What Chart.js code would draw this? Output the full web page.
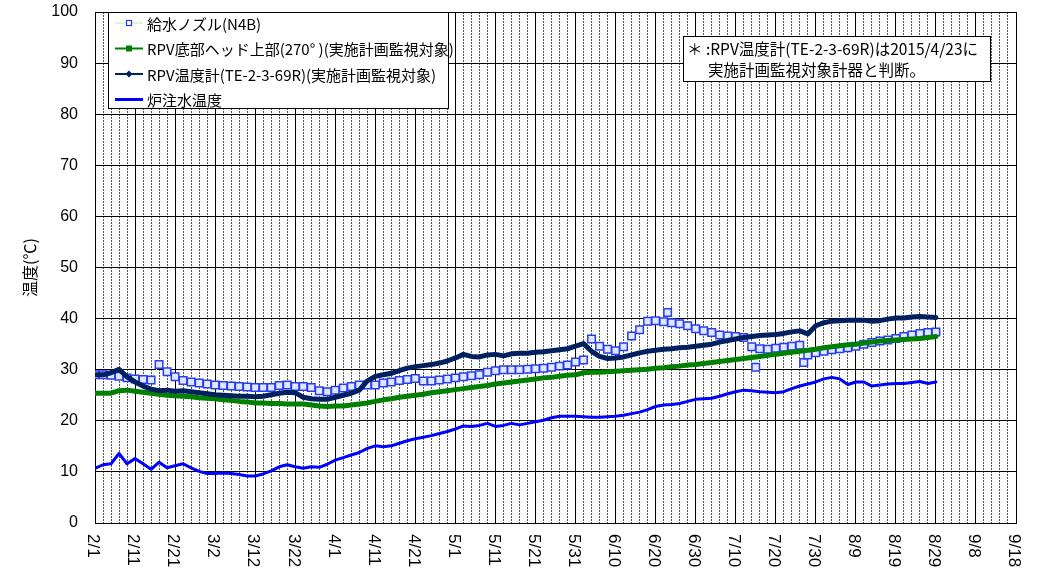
<!DOCTYPE html>
<html><head><meta charset="utf-8">
<script src="https://cdn.jsdelivr.net/npm/chart.js@4.4.1/dist/chart.umd.min.js"></script>
<style>html,body{margin:0;padding:0;background:#fff;}canvas{display:block;}</style>
</head><body>
<canvas id="c" width="1056" height="575"></canvas>
<script>
// sampled dates (2016, every 2 days)
const dates = [
 '2/1','2/3','2/5','2/7','2/9','2/11','2/13','2/15','2/17','2/19','2/21','2/23','2/25','2/27','2/29',
 '3/2','3/4','3/6','3/8','3/10','3/12','3/14','3/16','3/18','3/20','3/22','3/24','3/26','3/28','3/30',
 '4/1','4/3','4/5','4/7','4/9','4/11','4/13','4/15','4/17','4/19','4/21','4/23','4/25','4/27','4/29',
 '5/1','5/3','5/5','5/7','5/9','5/11','5/13','5/15','5/17','5/19','5/21','5/23','5/25','5/27','5/29','5/31',
 '6/2','6/4','6/6','6/8','6/10','6/12','6/14','6/16','6/18','6/20','6/22','6/24','6/26','6/28','6/30',
 '7/2','7/4','7/6','7/8','7/10','7/12','7/14','7/16','7/18','7/20','7/22','7/24','7/26','7/28','7/30',
 '8/1','8/3','8/5','8/7','8/9','8/11','8/13','8/15','8/17','8/19','8/21','8/23','8/25','8/27','8/29'
];
// 給水ノズル(N4B)
const n4bTemps = [
 29.0,29.0,28.9,28.7,28.4,28.2,28.1,28.0,31.0,29.6,28.6,27.9,27.6,27.4,27.2,
 27.0,26.9,26.8,26.7,26.6,26.5,26.5,26.5,26.9,27.0,26.7,26.7,26.5,25.9,25.7,
 26.0,26.4,26.7,27.0,27.0,27.0,27.4,27.6,27.9,28.1,28.3,27.8,27.8,28.0,28.2,
 28.4,28.6,28.8,29.0,29.5,29.8,30.0,30.0,30.0,30.1,30.2,30.3,30.5,30.7,30.9,31.5,
 31.9,36.0,34.6,34.0,33.7,34.5,36.6,37.8,39.5,39.6,39.4,39.2,39.0,38.6,38.0,
 37.6,37.3,36.8,36.6,36.5,36.3,34.5,34.1,34.0,34.2,34.4,34.6,34.8,32.9,33.3,
 33.6,33.9,34.1,34.3,34.6,35.0,35.3,35.6,35.8,36.1,36.5,36.8,37.1,37.3,37.4
];
const n4bOutlierDates = ['6/23','7/15','7/27'];
const n4bOutlierTemps = [41.2,30.5,31.4];
// RPV底部ヘッド上部(270°)
const bottomHeadTemps = [
 25.4,25.4,25.4,25.9,26.0,25.8,25.6,25.4,25.2,25.0,24.9,24.8,24.7,24.5,24.4,
 24.3,24.1,24.0,23.8,23.7,23.5,23.5,23.4,23.4,23.3,23.3,23.3,23.1,22.9,22.8,
 22.9,22.9,23.1,23.3,23.5,23.8,24.1,24.3,24.6,24.8,25.0,25.2,25.5,25.7,25.9,
 26.1,26.3,26.5,26.7,26.9,27.2,27.4,27.6,27.8,28.0,28.2,28.4,28.5,28.7,28.9,29.0,
 29.4,29.5,29.5,29.6,29.7,29.8,29.9,30.0,30.1,30.3,30.4,30.6,30.7,30.9,31.0,
 31.2,31.4,31.6,31.8,32.0,32.2,32.4,32.6,32.8,33.0,33.2,33.4,33.6,33.8,34.0,
 34.3,34.5,34.7,34.9,35.0,35.2,35.4,35.6,35.7,35.8,35.9,36.0,36.1,36.3,36.5
];
// RPV温度計(TE-2-3-69R)
const rpvTemps = [
 29.0,29.0,29.4,30.1,28.6,27.6,26.8,26.2,25.9,26.0,25.8,25.9,25.7,25.5,25.3,
 25.1,25.0,24.9,24.8,24.8,24.7,24.8,25.1,25.4,25.6,25.5,24.6,24.3,24.2,24.2,
 24.6,25.0,25.4,26.0,27.8,28.7,29.0,29.3,29.8,30.3,30.6,30.8,31.0,31.3,31.7,
 32.3,33.0,32.6,32.5,32.9,33.0,32.7,33.1,33.2,33.2,33.4,33.5,33.7,33.9,34.1,34.6,
 35.1,33.6,32.6,32.2,32.3,32.5,32.9,33.3,33.6,33.8,34.0,34.1,34.3,34.4,34.6,
 34.8,35.0,35.4,35.7,36.0,36.3,36.5,36.7,36.8,36.9,37.1,37.4,37.6,37.0,38.6,
 39.2,39.5,39.6,39.7,39.7,39.7,39.5,39.6,39.9,40.1,40.1,40.3,40.4,40.3,40.2
];
// 炉注水温度
const injectionTemps = [
 10.7,11.4,11.6,13.6,11.6,12.6,11.6,10.5,11.9,10.8,11.2,11.6,10.8,10.1,9.7,
 9.7,9.8,9.7,9.5,9.2,9.2,9.6,10.2,11.0,11.4,11.0,10.7,11.0,10.9,11.5,
 12.3,12.8,13.3,13.8,14.6,15.1,14.9,15.1,15.6,16.1,16.5,16.8,17.1,17.5,17.9,
 18.4,19.0,18.9,19.1,19.5,18.9,19.1,19.5,19.2,19.5,19.8,20.1,20.6,20.9,20.9,20.9,
 20.8,20.7,20.7,20.8,20.9,21.1,21.4,21.7,22.2,22.8,23.1,23.2,23.4,23.8,24.2,
 24.3,24.4,24.8,25.3,25.7,26.0,25.9,25.7,25.6,25.5,25.7,26.3,26.8,27.2,27.6,
 28.2,28.5,28.2,27.1,27.6,27.6,26.8,27.0,27.2,27.3,27.3,27.5,27.7,27.3,27.6
];
const xTickLabels = ['2/1','2/11','2/21','3/2','3/12','3/22','4/1','4/11','4/21','5/1','5/11','5/21',
 '5/31','6/10','6/20','6/30','7/10','7/20','7/30','8/9','8/19','8/29','9/8','9/18'];
const seriesNames = ['給水ノズル(N4B)','RPV底部ヘッド上部(270° )(実施計画監視対象)',
 'RPV温度計(TE-2-3-69R)(実施計画監視対象)','炉注水温度'];
const noteLines = ['＊ :RPV温度計(TE-2-3-69R)は2015/4/23に','実施計画監視対象計器と判断。'];

const toDay = s => { const [m,d] = s.split('/').map(Number); return (Date.UTC(2016,m-1,d)-Date.UTC(2016,1,1))/86400000; };
const pts = (ds, vs) => ds.map((s,i)=>({x:toDay(s), y:vs[i]}));
const n4bData = pts(dates,n4bTemps).concat(pts(n4bOutlierDates,n4bOutlierTemps)).sort((a,b)=>a.x-b.x);
const xMax = (xTickLabels.length-1)*10;

const JP = '"Noto Sans CJK JP", sans-serif';
const LAT = '"Liberation Sans", Arial, sans-serif';

const legendStyles = [
 {line:'#c8f5c8', w:1.5, marker:'sq', mc:'#2437f0'},
 {line:'#008000', w:2, marker:'fsq', mc:'#008000'},
 {line:'#002060', w:2, marker:'dia', mc:'#002060'},
 {line:'#0000ff', w:3, marker:null}
];

const overlay = {
 id:'overlay',
 afterDraw(chart){
  const ctx = chart.ctx, s = chart.scales.x, ca = chart.chartArea;
  ctx.save();
  // x labels, rotated clockwise
  ctx.font = '17px ' + LAT; ctx.fillStyle = '#000'; ctx.textAlign='left'; ctx.textBaseline='middle';
  xTickLabels.forEach((lab,i)=>{
    const px = s.getPixelForValue(i*10);
    ctx.save(); ctx.translate(px-2, ca.bottom+11); ctx.rotate(Math.PI/2); ctx.fillText(lab,0,0); ctx.restore();
  });
  // legend
  ctx.fillStyle='#fff'; ctx.fillRect(108.5,12.5,340,96);
  ctx.strokeStyle='#000'; ctx.lineWidth=1; ctx.strokeRect(108.5,12.5,340,96);
  const rows=[23,48.5,74,99.5];
  chart.data.datasets.forEach((ds,i)=>{
    const st=legendStyles[i], y=rows[i];
    ctx.strokeStyle=st.line; ctx.lineWidth=st.w;
    ctx.beginPath(); ctx.moveTo(115,y); ctx.lineTo(143,y); ctx.stroke();
    if(st.marker==='sq'){ ctx.fillStyle='#fff'; ctx.fillRect(126.5,y-2.5,5,5); ctx.strokeStyle=st.mc; ctx.lineWidth=1.2; ctx.strokeRect(126.5,y-2.5,5,5); }
    if(st.marker==='fsq'){ ctx.fillStyle=st.mc; ctx.fillRect(126,y-3,6,6); }
    if(st.marker==='dia'){ ctx.fillStyle=st.mc; ctx.beginPath(); ctx.moveTo(129,y-3.5); ctx.lineTo(132.5,y); ctx.lineTo(129,y+3.5); ctx.lineTo(125.5,y); ctx.closePath(); ctx.fill(); }
    ctx.fillStyle='#000'; ctx.font='15px '+JP; ctx.textAlign='left'; ctx.textBaseline='middle';
    ctx.fillText(ds.label,147,y+1);
  });
  // note box
  ctx.fillStyle='#fff'; ctx.fillRect(683.5,36.5,307,45);
  ctx.strokeStyle='#000'; ctx.lineWidth=1; ctx.strokeRect(683.5,36.5,307,45);
  ctx.fillStyle='#000'; ctx.font='15.5px '+JP;
  ctx.fillText(noteLines[0],687,49);
  ctx.fillText(noteLines[1],708,70);
  ctx.restore();
 }
};

const noPad = sc => { sc.paddingTop = 0; sc.paddingBottom = 0; };

new Chart(document.getElementById('c'),{
 type:'line',
 data:{datasets:[
  {label:seriesNames[0], data:n4bData, borderColor:'#c8f5c8', borderWidth:1, pointStyle:'rect',
   pointRadius:5.3, pointBorderColor:'#2a3cf2', pointBackgroundColor:'#dfe8ff', pointBorderWidth:1.5, order:3},
  {label:seriesNames[1], data:pts(dates,bottomHeadTemps), borderColor:'#008000', borderWidth:5,
   pointRadius:0, borderJoinStyle:'round', borderCapStyle:'round', order:2},
  {label:seriesNames[2], data:pts(dates,rpvTemps), borderColor:'#002060', borderWidth:5,
   pointRadius:0, borderJoinStyle:'round', borderCapStyle:'round', order:1},
  {label:seriesNames[3], data:pts(dates,injectionTemps), borderColor:'#0000ff', borderWidth:3,
   pointRadius:0, borderJoinStyle:'round', borderCapStyle:'round', order:0}
 ]},
 options:{
  responsive:false, animation:false,
  layout:{padding:{left:0,right:40,top:12,bottom:52}},
  plugins:{legend:{display:false}, tooltip:{enabled:false}},
  scales:{
   x:{type:'linear', min:0, max:xMax, ticks:{stepSize:10, display:false},
      grid:{color:'#000', lineWidth:1, drawTicks:false}, border:{color:'#000', width:1},
      afterFit:sc=>{sc.height=0;}},
   xMinor:{type:'linear', position:'bottom', min:0, max:xMax, ticks:{stepSize:2, display:false},
      grid:{color:c=>(c.tick && c.tick.value%10===0)?'rgba(0,0,0,0)':'#555', lineWidth:1, drawTicks:false},
      border:{display:false, dash:[2,1]}, afterFit:sc=>{sc.height=0;}},
   y:{min:0, max:100, ticks:{stepSize:10, color:'#000', padding:17, font:{family:LAT, size:16}},
      grid:{color:'#000', lineWidth:1, drawTicks:false}, border:{color:'#000', width:1},
      title:{display:true, text:'温度(℃)', color:'#000', font:{family:JP, size:16}, padding:{top:20,bottom:0}},
      afterFit:sc=>{sc.width=95; noPad(sc);}}
  }
 },
 plugins:[overlay]
});
</script>
</body></html>
